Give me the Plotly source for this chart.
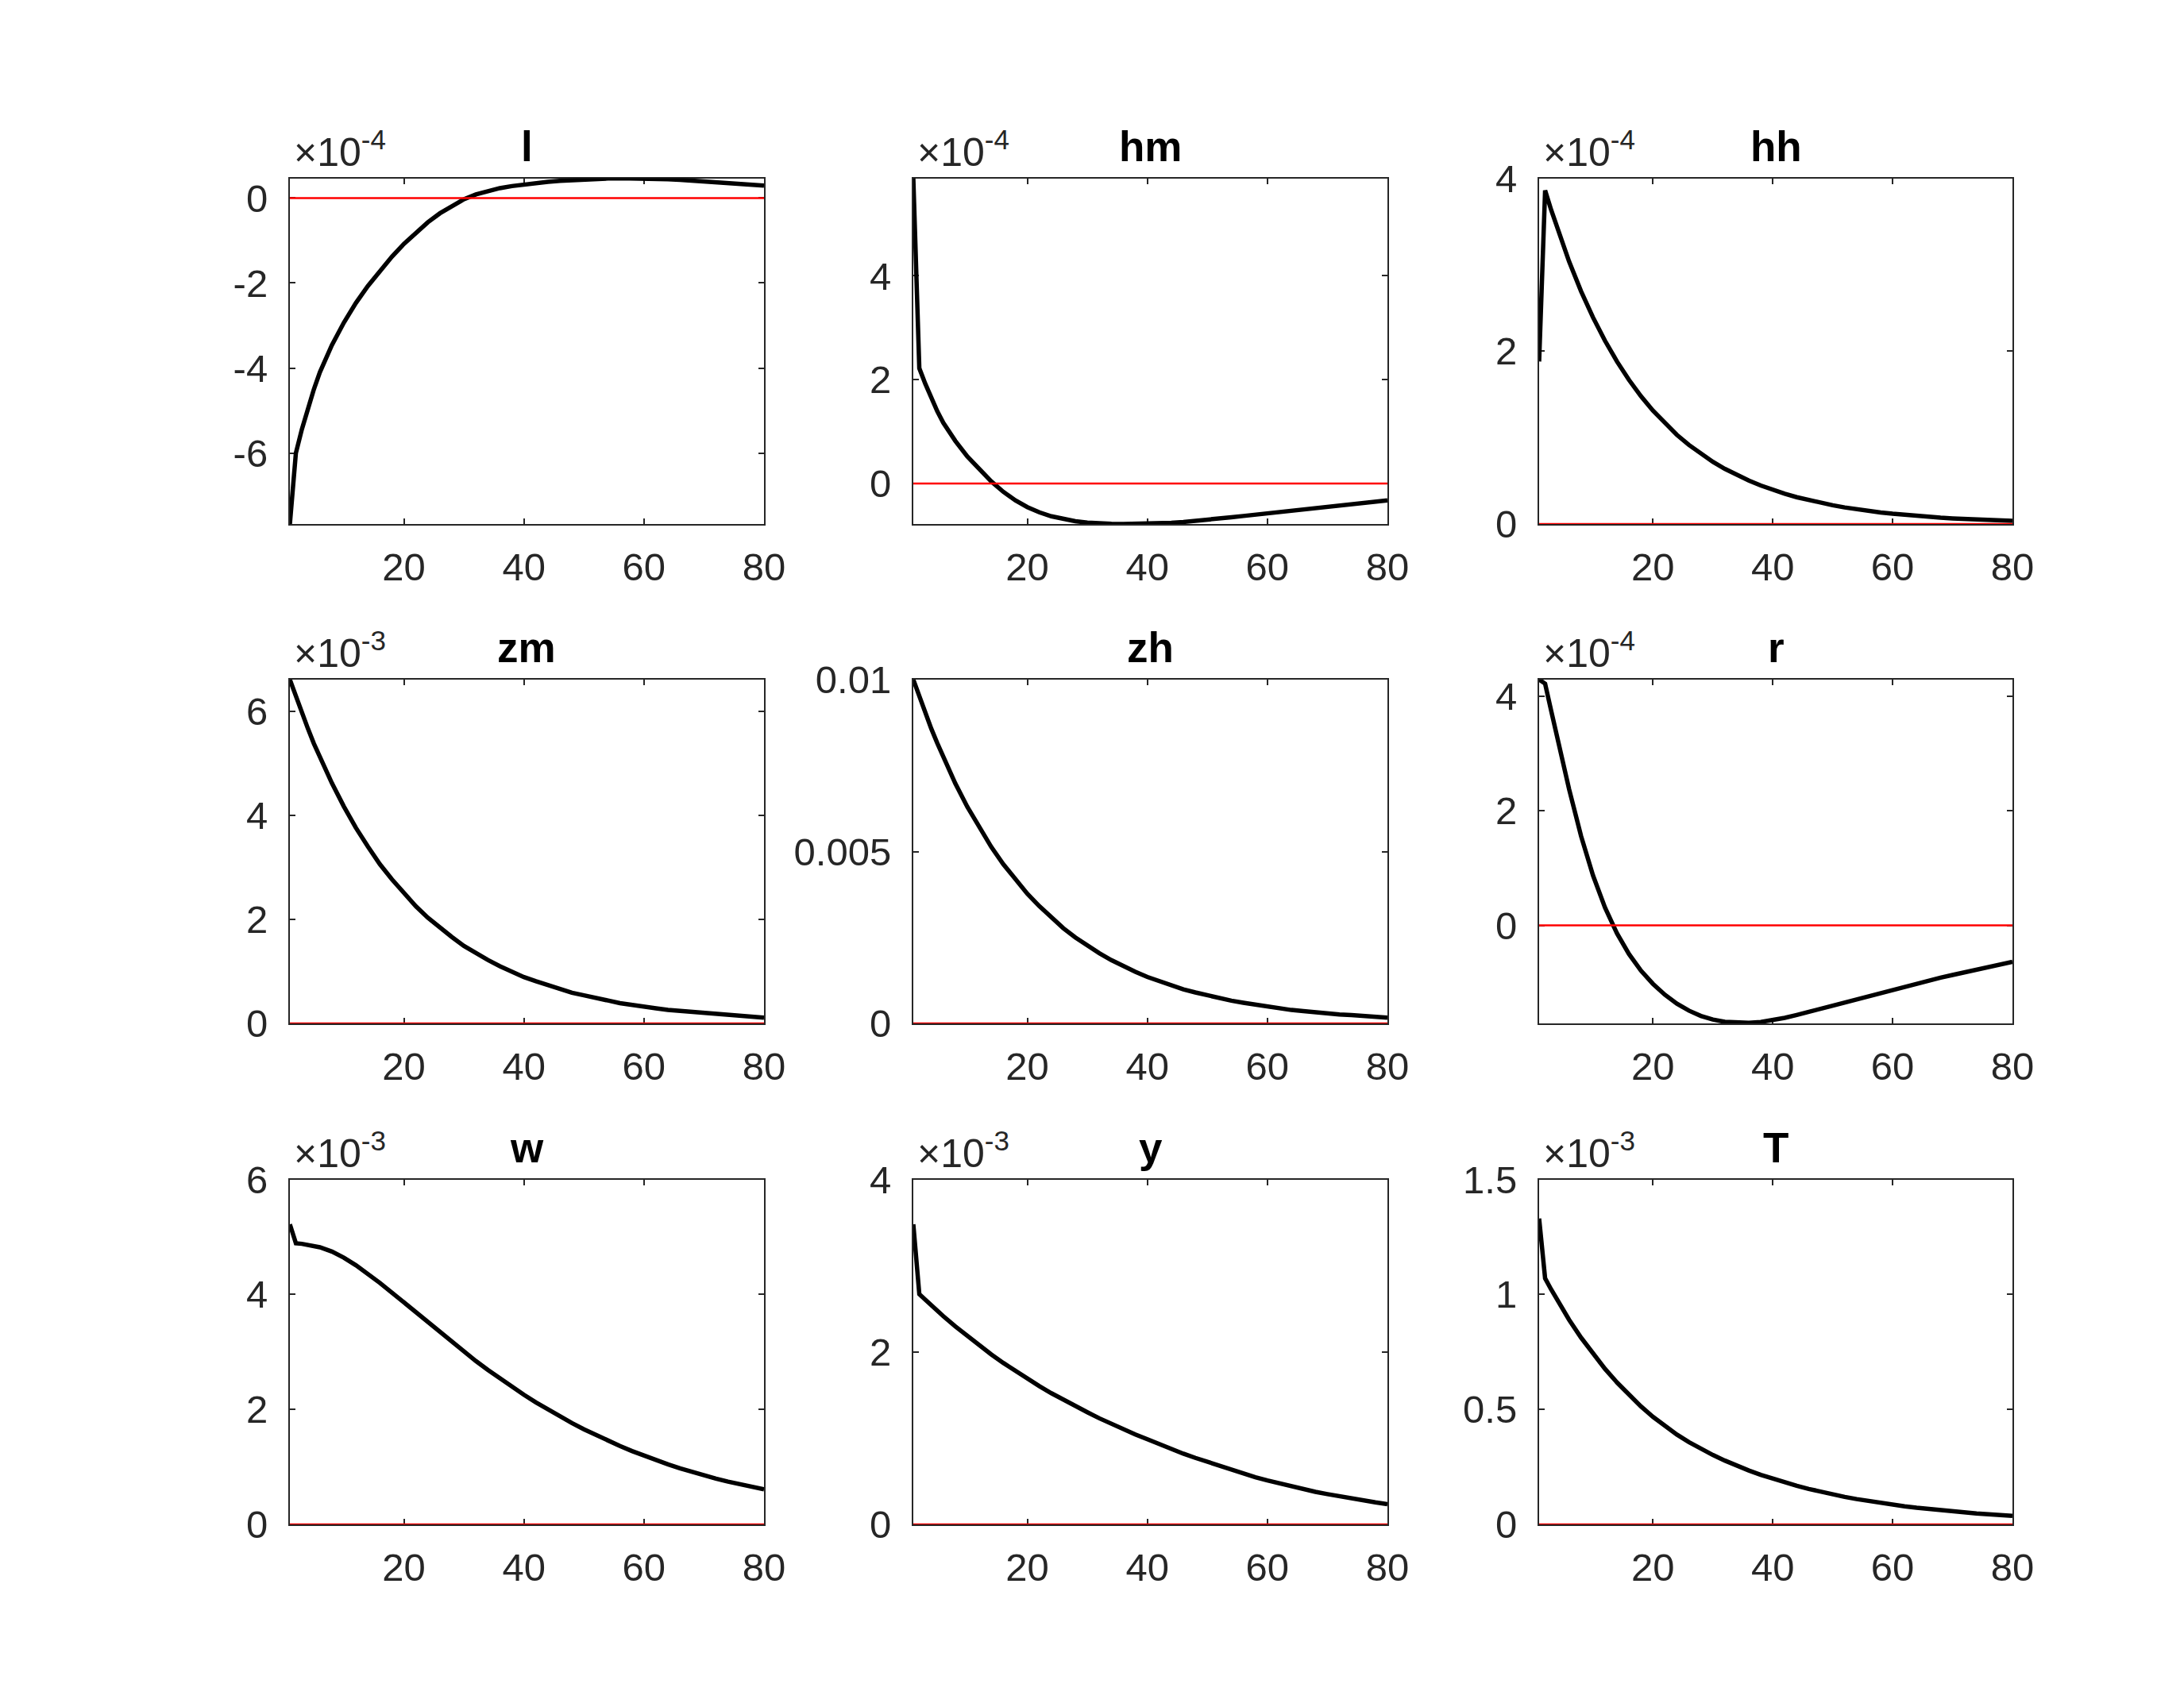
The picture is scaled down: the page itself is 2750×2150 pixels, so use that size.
import plotly.graph_objects as go

# Horizon (periods) at which values were read
periods = [1, 2, 3, 4, 5, 6, 8, 10, 12, 14, 16, 18, 20, 22, 24, 26, 28, 30, 32, 34, 36, 38, 40,
           42, 44, 46, 48, 50, 52, 54, 56, 58, 60, 62, 64, 66, 68, 70, 72, 74, 76, 78, 80]

# Series values (in units of 10^exponent shown on each panel)
l_vals = [-7.67, -6.00, -5.44, -4.94, -4.50, -4.10, -3.46, -2.93, -2.47, -2.07, -1.71, -1.38, -1.08,
          -0.81, -0.57, -0.36, -0.18, -0.03, 0.085, 0.17, 0.233, 0.281, 0.319,
          0.351, 0.379, 0.403, 0.423, 0.439, 0.451, 0.459, 0.463, 0.463, 0.46, 0.453, 0.442, 0.428,
          0.412, 0.394, 0.375, 0.355, 0.334, 0.312, 0.29]
hm_vals = [5.88, 2.22, 1.92, 1.64, 1.39, 1.17, 0.82, 0.52, 0.265, 0.04, -0.16, -0.325, -0.455,
           -0.555, -0.631, -0.687, -0.727, -0.753, -0.769, -0.777, -0.779, -0.778, -0.774,
           -0.767, -0.756, -0.741, -0.722, -0.70, -0.675, -0.65, -0.625, -0.60, -0.575, -0.55,
           -0.525, -0.50, -0.475, -0.45, -0.425, -0.40, -0.375, -0.35, -0.325]
hh_vals = [1.88, 3.86, 3.635, 3.424, 3.225, 3.037, 2.693, 2.389, 2.119, 1.879, 1.667, 1.478, 1.311,
           1.163, 1.031, 0.915, 0.811, 0.719, 0.638, 0.566, 0.502, 0.445, 0.395,
           0.350, 0.310, 0.275, 0.244, 0.217, 0.192, 0.170, 0.151, 0.134, 0.119, 0.105, 0.093,
           0.083, 0.073, 0.065, 0.058, 0.051, 0.045, 0.040, 0.036]
zm_vals = [6.61, 6.28, 5.97, 5.67, 5.38, 5.11, 4.62, 4.17, 3.76, 3.40, 3.06, 2.77, 2.50,
           2.25, 2.03, 1.84, 1.66, 1.49, 1.35, 1.22, 1.10, 0.99, 0.89,
           0.81, 0.73, 0.66, 0.59, 0.54, 0.48, 0.44, 0.39, 0.35, 0.32, 0.29, 0.26, 0.24, 0.21, 0.19,
           0.17, 0.16, 0.14, 0.13, 0.11]
zh_vals = [10.0, 9.50, 9.03, 8.57, 8.15, 7.74, 6.98, 6.30, 5.69, 5.13, 4.63, 4.18, 3.77,
           3.41, 3.07, 2.77, 2.50, 2.26, 2.04, 1.84, 1.66, 1.50, 1.35,
           1.22, 1.10, 0.99, 0.90, 0.81, 0.73, 0.66, 0.60, 0.54, 0.48, 0.44, 0.39, 0.36, 0.32, 0.29,
           0.26, 0.24, 0.21, 0.19, 0.17]
r_vals = [4.29, 4.22, 3.75, 3.28, 2.82, 2.38, 1.56, 0.87, 0.31, -0.14, -0.50, -0.79, -1.02,
          -1.21, -1.365, -1.487, -1.579, -1.643, -1.683, -1.701, -1.701, -1.685, -1.655,
          -1.613, -1.563, -1.508, -1.452, -1.396, -1.34, -1.284, -1.228, -1.172, -1.116, -1.064,
          -1.012, -0.962, -0.912, -0.864, -0.816, -0.77, -0.724, -0.68, -0.636]
w_vals = [5.22, 4.89, 4.88, 4.865, 4.845, 4.82, 4.745, 4.639, 4.508, 4.36, 4.20, 4.032, 3.859,
          3.684, 3.509, 3.336, 3.166, 3.001, 2.841, 2.686, 2.536, 2.392, 2.254,
          2.122, 1.996, 1.876, 1.762, 1.654, 1.552, 1.455, 1.363, 1.276, 1.194, 1.117, 1.044,
          0.975, 0.91, 0.85, 0.795, 0.744, 0.696, 0.651, 0.609]
y_vals = [3.48, 2.67, 2.605, 2.539, 2.476, 2.414, 2.295, 2.182, 2.074, 1.970, 1.872, 1.778, 1.690,
          1.603, 1.521, 1.444, 1.370, 1.300, 1.230, 1.165, 1.102, 1.043, 0.987,
          0.928, 0.872, 0.820, 0.771, 0.724, 0.675, 0.630, 0.587, 0.547, 0.510, 0.474, 0.439,
          0.408, 0.378, 0.351, 0.324, 0.299, 0.276, 0.255, 0.235]
T_vals = [1.33, 1.07, 1.022, 0.976, 0.932, 0.890, 0.812, 0.741, 0.676, 0.617, 0.563, 0.513, 0.4675,
          0.427, 0.3906, 0.358, 0.3284, 0.3017, 0.2774, 0.2550, 0.2345, 0.2156, 0.1982,
          0.1823, 0.1676, 0.1541, 0.1416, 0.1302, 0.1197, 0.1101, 0.1012, 0.0931, 0.0856, 0.0787,
          0.0723, 0.0665, 0.0611, 0.0562, 0.0517, 0.0475, 0.0437, 0.0402, 0.0369]

titles = ["l", "hm", "hh", "zm", "zh", "r", "w", "y", "T"]
series = [l_vals, hm_vals, hh_vals, zm_vals, zh_vals, r_vals, w_vals, y_vals, T_vals]
exponents = [-4, -4, -4, -3, -3, -4, -3, -3, -3]
show_exponent = [True, True, True, True, False, True, True, True, True]
y_ranges = [[-7.67, 0.465], [-0.78, 5.88], [0, 4], [0, 6.61], [0, 10], [-1.71, 4.29],
            [0, 6], [0, 4], [0, 1.5]]
y_tick_vals = [[-6, -4, -2, 0], [0, 2, 4], [0, 2, 4], [0, 2, 4, 6], [0, 5, 10], [0, 2, 4],
               [0, 2, 4, 6], [0, 2, 4], [0, 0.5, 1, 1.5]]
y_tick_text = [["-6", "-4", "-2", "0"], ["0", "2", "4"], ["0", "2", "4"], ["0", "2", "4", "6"],
               ["0", "0.005", "0.01"], ["0", "2", "4"], ["0", "2", "4", "6"], ["0", "2", "4"],
               ["0", "0.5", "1", "1.5"]]
x_tick_vals = [20, 40, 60, 80]
x_tick_text = ["20", "40", "60", "80"]
x_range = [1, 80]

W, H = 2750, 2150
col_px = [(365, 962), (1150, 1747), (1938, 2534)]
row_px = [(224.5, 660), (856, 1289), (1485.5, 1920)]

FONT = "Liberation Sans, Arial, Helvetica, sans-serif"
AXC = "#262626"

fig = go.Figure()
annotations = []
layout = {}
for i in range(9):
    r, c = divmod(i, 3)
    k = i + 1
    sfx = "" if k == 1 else str(k)
    scale = 10.0 ** exponents[i]
    yv = [v * scale for v in series[i]]
    fig.add_trace(go.Scatter(x=periods, y=yv, mode="lines",
                             line=dict(color="black", width=5.5),
                             xaxis="x" + sfx, yaxis="y" + sfx, showlegend=False,
                             hoverinfo="skip"))
    fig.add_trace(go.Scatter(x=[x_range[0], x_range[1]], y=[0, 0], mode="lines",
                             line=dict(color="red", width=2.5),
                             xaxis="x" + sfx, yaxis="y" + sfx, showlegend=False,
                             hoverinfo="skip"))
    xd = [col_px[c][0] / W, col_px[c][1] / W]
    yd = [1 - row_px[r][1] / H, 1 - row_px[r][0] / H]
    common = dict(showline=True, linecolor=AXC, linewidth=2, mirror="allticks",
                  ticks="inside", ticklen=7, tickwidth=2, tickcolor=AXC,
                  showgrid=False, zeroline=False, layer="below traces", automargin=False,
                  tickfont=dict(family=FONT, size=49, color=AXC))
    layout["xaxis" + sfx] = dict(common, domain=xd, anchor="y" + sfx, range=x_range,
                                 tickmode="array", tickvals=x_tick_vals, ticktext=x_tick_text,
                                 ticklabelstandoff=10)
    layout["yaxis" + sfx] = dict(common, domain=yd, anchor="x" + sfx,
                                 range=[v * scale for v in y_ranges[i]],
                                 tickmode="array",
                                 tickvals=[v * scale for v in y_tick_vals[i]],
                                 ticktext=y_tick_text[i], ticklabelstandoff=16)
    annotations.append(dict(text="<b>" + titles[i] + "</b>", xref="paper", yref="paper",
                            x=(xd[0] + xd[1]) / 2, y=yd[1], xanchor="center", yanchor="bottom",
                            yshift=9, showarrow=False,
                            font=dict(family=FONT, size=53, color="black")))
    if show_exponent[i]:
        annotations.append(dict(text="×10<sup>%d</sup>" % exponents[i], xref="paper",
                                yref="paper", x=xd[0], y=yd[1], xanchor="left", yanchor="bottom",
                                xshift=3, yshift=3, showarrow=False,
                                font=dict(family=FONT, size=50, color=AXC)))

fig.update_layout(template="none", width=W, height=H, margin=dict(l=0, r=0, t=0, b=0),
                  paper_bgcolor="white", plot_bgcolor="white",
                  annotations=annotations, **layout)
fig.write_html("out.html")
